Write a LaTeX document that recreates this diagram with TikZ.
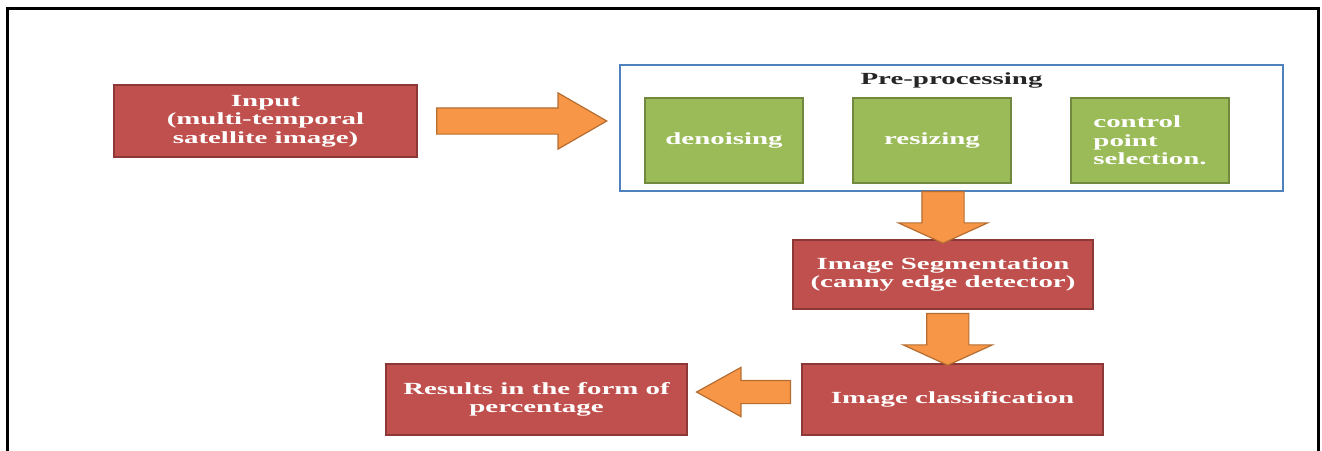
\documentclass[tikz,border=0pt]{standalone}
\usepackage{fontspec}
\setmainfont{Liberation Serif}[FakeStretch=1.7]
\usepackage{tikz}
\usetikzlibrary{shapes.arrows}
\usetikzlibrary{calc}
\usetikzlibrary{positioning}

\definecolor{boxred}{HTML}{C0504D}
\definecolor{boxredline}{HTML}{8C3836}
\definecolor{boxgreen}{HTML}{9BBB59}
\definecolor{boxgreenline}{HTML}{71893F}
\definecolor{preblue}{HTML}{4F81BD}
\definecolor{arroworange}{HTML}{F79646}
\definecolor{arrowline}{HTML}{B66D31}

\begin{document}
\begin{tikzpicture}[x=1pt, y=-1pt,
    boxtext/.style={font=\bfseries\fontsize{17}{18.5}\selectfont},
    redbox/.style={boxtext, draw=boxredline, fill=boxred, line width=1.5pt, text=white,
      align=center, minimum width=301pt, minimum height=71pt, inner sep=0pt, outer sep=0pt},
    greenbox/.style={boxtext, draw=boxgreenline, fill=boxgreen, line width=1.5pt, text=white,
      minimum width=158pt, minimum height=85pt, inner sep=0pt, outer sep=0pt},
    fatarrow/.style={single arrow, draw=arrowline, fill=arroworange, line width=1.2pt,
      outer sep=0pt}]
  \useasboundingbox (0,0) rectangle (1322,450);
  \draw[line width=3pt] (7,460) -- (7,8) -- (1318,8) -- (1318,460);

  % input and pre-processing
  \node[redbox, minimum width=303pt, minimum height=72pt] (in) at (265.5,121)
    {Input\\(multi-temporal\\satellite image)};
  \node[draw=preblue, line width=1.5pt, minimum width=663pt, minimum height=126pt,
    inner sep=0pt, outer sep=0pt] (pre) at (951.5,128) {};
  \node[boxtext, text=black!85] (pretitle) at ($(pre.north)+(0,15)$) {Pre-processing};
  \node[greenbox] (denoise) at (724,140.5) {denoising};
  \node[greenbox] (resize) at (932,140.5) {resizing};
  \node[greenbox, align=left] (control) at (1150,140.5) {control\\point\\selection.};

  % later steps
  \node[redbox, minimum width=300pt, minimum height=69pt] (seg) at (943,274.5)
    {Image Segmentation\\(canny edge detector)};
  \node[redbox] (cls) at (952.5,399.5) {Image classification};
  \node[redbox] (res) at (536.5,399.5) {Results in the form of\\percentage};

  % block arrows
  \node[fatarrow, inner sep=12.5pt, minimum height=170pt, single arrow head extend=15pt,
    single arrow tip angle=60] (a1) at ($(in.east)!0.46!(in.east -| pre.west)$) {};
  \node[fatarrow, inner sep=20.5pt, shape border rotate=270, minimum height=46pt,
    single arrow head extend=23.5pt, single arrow tip angle=131, yshift=3pt]
    (a2) at ($(seg.north |- pre.south)!0.5!(seg.north)$) {};
  \node[fatarrow, inner sep=20.5pt, shape border rotate=270, minimum height=46pt,
    single arrow head extend=23.5pt, single arrow tip angle=131, yshift=2pt]
    (a3) at ($(seg.south)!0.5!(cls.north)$) {};
  \node[fatarrow, inner sep=11pt, shape border rotate=180, minimum height=94pt,
    single arrow head extend=13pt, single arrow tip angle=58, xshift=9.5pt, yshift=7.5pt]
    (a4) at ($(cls.west)!0.5!(res.east)$) {};
\end{tikzpicture}
\end{document}
